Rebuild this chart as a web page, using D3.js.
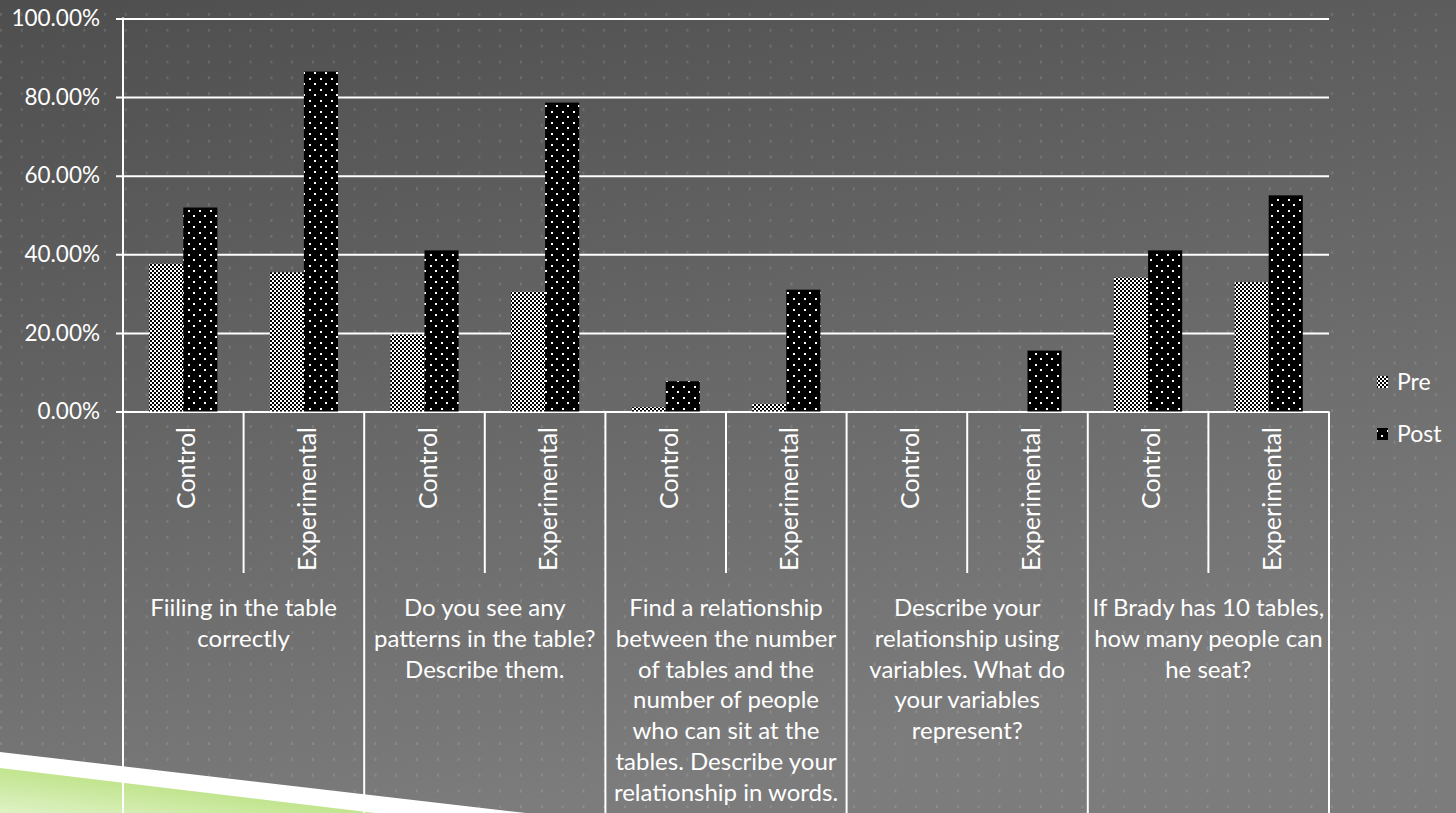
<!DOCTYPE html>
<html>
<head>
<meta charset="utf-8">
<script src="https://cdn.jsdelivr.net/npm/d3@7"></script>
<style>
  html, body { margin: 0; padding: 0; background: #555; overflow: hidden; }
  svg { display: block; }
  text { font-family: Lato, "Open Sans", sans-serif; fill: #ffffff; }
</style>
</head>
<body>
<svg id="chart" width="1456" height="813"></svg>
<script>
// ---- data ----
const subgroups = ["Control", "Experimental"];
const groupLines = [
  ["Fiiling in the table", "correctly"],
  ["Do you see any", "patterns in the table?", "Describe them."],
  ["Find a relationship", "between the number", "of tables and the", "number of people", "who can sit at the", "tables. Describe your", "relationship in words."],
  ["Describe your", "relationship using", "variables. What do", "your variables", "represent?"],
  ["If Brady has 10 tables,", "how many people can", "he seat?"]
];
const series = ["Pre", "Post"];
const preValues  = [0.376, 0.354, 0.196, 0.305, 0.011, 0.020, 0.000, 0.000, 0.341, 0.329];
const postValues = [0.519, 0.865, 0.410, 0.786, 0.077, 0.310, 0.000, 0.155, 0.410, 0.550];
const yTicks = [0, 0.2, 0.4, 0.6, 0.8, 1.0];

// ---- layout ----
const W = 1456, H = 813;
const plotL = 123, plotR = 1329, plotT = 18.5, plotB = 411.5;
const svg = d3.select("#chart");
const defs = svg.append("defs");

// background gradient
const bg = defs.append("linearGradient").attr("id", "bg")
  .attr("x1", 0).attr("y1", 0).attr("x2", 0.35).attr("y2", 1);
bg.append("stop").attr("offset", 0).attr("stop-color", "#4e4e4e");
bg.append("stop").attr("offset", 1).attr("stop-color", "#7c7c7c");

// dotted texture
const dots = defs.append("pattern").attr("id", "dots")
  .attr("patternUnits", "userSpaceOnUse").attr("width", 20.8).attr("height", 15.85);
dots.append("rect").attr("x", 0).attr("y", 13).attr("width", 2).attr("height", 4)
  .attr("fill", "rgba(255,255,255,0.12)");

// Pre: checkerboard
const chk = defs.append("pattern").attr("id", "pPre")
  .attr("patternUnits", "userSpaceOnUse").attr("width", 4).attr("height", 4);
chk.append("rect").attr("width", 4).attr("height", 4).attr("fill", "#000");
chk.append("rect").attr("x", 0).attr("y", 0).attr("width", 2).attr("height", 2).attr("fill", "#fff");
chk.append("rect").attr("x", 2).attr("y", 2).attr("width", 2).attr("height", 2).attr("fill", "#fff");

// Post: black with white dots
const pd = defs.append("pattern").attr("id", "pPost")
  .attr("patternUnits", "userSpaceOnUse").attr("width", 11).attr("height", 11);
pd.append("rect").attr("width", 11).attr("height", 11).attr("fill", "#000");
pd.append("rect").attr("x", 1).attr("y", 1).attr("width", 2).attr("height", 2).attr("fill", "#fff");
pd.append("rect").attr("x", 6).attr("y", 6).attr("width", 2).attr("height", 2).attr("fill", "#fff");

// green gradient
const gg = defs.append("linearGradient").attr("id", "green")
  .attr("x1", 1).attr("y1", 0).attr("x2", 0).attr("y2", 1);
gg.append("stop").attr("offset", 0).attr("stop-color", "#a4d756");
gg.append("stop").attr("offset", 1).attr("stop-color", "#dff2c6");

svg.append("rect").attr("width", W).attr("height", H).attr("fill", "url(#bg)");
svg.append("rect").attr("width", W).attr("height", H).attr("fill", "url(#dots)");

// decorative corner shape
svg.append("polygon").attr("points", "0,752 526,813 0,813").attr("fill", "#ffffff");
svg.append("polygon").attr("points", "0,768 375,813 0,813").attr("fill", "url(#green)");

// ---- scales ----
const barIdx = d3.range(preValues.length);
const x0 = d3.scaleBand().domain(barIdx).range([plotL, plotR]).paddingInner(0).paddingOuter(0);
const x1 = d3.scaleBand().domain(series).range([0, x0.bandwidth()]).paddingInner(0).paddingOuter(0.77);
const y = d3.scaleLinear().domain([0, 1]).range([plotB, plotT]);

// y axis with gridlines
const yAxis = d3.axisLeft(y).tickValues(yTicks).tickFormat(d3.format(".2%"))
  .tickSize(-(plotR - plotL)).tickPadding(23);
const gy = svg.append("g").attr("transform", `translate(${plotL},0)`).call(yAxis);
gy.select(".domain").remove();
gy.selectAll(".tick line").attr("x1", -7).attr("stroke", "#ffffff").attr("stroke-width", 2);
gy.selectAll(".tick text").attr("font-size", 22.5).attr("fill", "#fff")
  .attr("font-family", "Lato, 'Open Sans', sans-serif");

// bars
const rows = barIdx.map(i => ({ i, Pre: preValues[i], Post: postValues[i] }));
const gb = svg.append("g");
rows.forEach(r => {
  series.forEach(s => {
    if (r[s] <= 0) return;
    gb.append("rect")
      .attr("x", x0(r.i) + x1(s))
      .attr("y", y(r[s]))
      .attr("width", x1.bandwidth())
      .attr("height", y(0) - y(r[s]))
      .attr("fill", s === "Pre" ? "url(#pPre)" : "url(#pPost)");
  });
});

// vertical axis and separators
svg.append("line").attr("x1", plotL).attr("x2", plotL).attr("y1", plotT - 1).attr("y2", H)
  .attr("stroke", "#fff").attr("stroke-width", 2);
barIdx.forEach(i => {
  const xr = x0(i) + x0.bandwidth();
  const full = (i % 2 === 1);
  svg.append("line").attr("x1", xr).attr("x2", xr).attr("y1", plotB).attr("y2", full ? H : 573)
    .attr("stroke", "#fff").attr("stroke-width", 2);
});

// sub-category labels (rotated)
barIdx.forEach(i => {
  const cx = x0(i) + x0.bandwidth() / 2 + 3;
  svg.append("text")
    .attr("transform", `translate(${cx},427) rotate(-90)`)
    .attr("text-anchor", "end").attr("dy", "0.36em")
    .attr("font-size", 25)
    .text(subgroups[i % 2]);
});

// group labels
groupLines.forEach((lines, g) => {
  const cx = x0(2 * g) + x0.bandwidth();
  const t = svg.append("text").attr("text-anchor", "middle").attr("font-size", 24);
  lines.forEach((ln, k) => {
    t.append("tspan").attr("x", cx).attr("y", 616 + k * 30.8).text(ln);
  });
});

// legend
const legY = { Pre: 382, Post: 434 };
series.forEach(s => {
  svg.append("rect").attr("x", 1377).attr("y", legY[s] - 6).attr("width", 11).attr("height", 12)
    .attr("fill", s === "Pre" ? "url(#pPre)" : "url(#pPost)");
  svg.append("text").attr("x", 1397).attr("y", legY[s]).attr("dy", "0.36em")
    .attr("font-size", 23).text(s);
});
</script>
</body>
</html>
